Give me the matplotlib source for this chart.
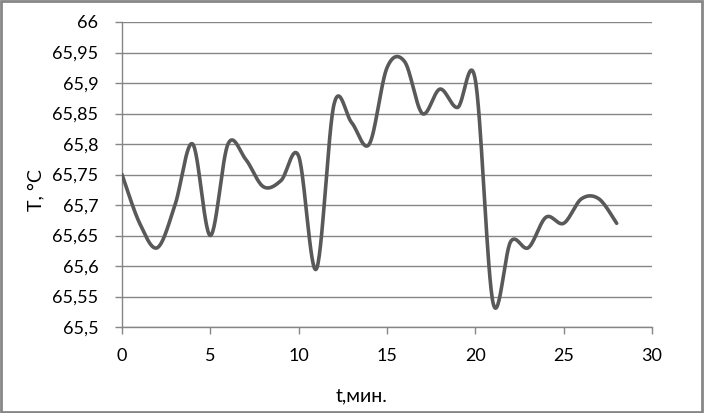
import numpy as np
import matplotlib
matplotlib.use("Agg")
import matplotlib.pyplot as plt
from matplotlib.patches import Rectangle
from matplotlib.ticker import FuncFormatter

# данные
t_min = [0, 1, 2, 3, 4, 5, 6, 7, 8, 9, 10, 11, 12, 13, 14,
         15, 16, 17, 18, 19, 20, 21, 22, 23, 24, 25, 26, 27, 28]
temp_c = [65.75, 65.67, 65.63, 65.70, 65.80, 65.65, 65.80, 65.775, 65.73, 65.74,
          65.78, 65.595, 65.865, 65.835, 65.80, 65.925, 65.935, 65.85, 65.89, 65.86,
          65.905, 65.54, 65.64, 65.63, 65.68, 65.67, 65.71, 65.71, 65.67]

x_ticks = [0, 5, 10, 15, 20, 25, 30]
y_ticks = [65.5, 65.55, 65.6, 65.65, 65.7, 65.75, 65.8, 65.85, 65.9, 65.95, 66.0]

plt.rcParams['font.family'] = ['Lato', 'Open Sans', 'DejaVu Sans']


def smooth_excel(x, y, n=30):
    # сглаживание как в Excel (кубические Безье, Catmull-Rom)
    x = np.asarray(x, float)
    y = np.asarray(y, float)
    px = np.concatenate([[x[0]], x, [x[-1]]])
    py = np.concatenate([[y[0]], y, [y[-1]]])
    s = np.linspace(0, 1, n)
    xs, ys = [], []
    for i in range(1, len(px) - 2):
        p0 = np.array([px[i], py[i]])
        p3 = np.array([px[i + 1], py[i + 1]])
        p1 = p0 + (p3 - np.array([px[i - 1], py[i - 1]])) / 6
        p2 = p3 - (np.array([px[i + 2], py[i + 2]]) - p0) / 6
        b = ((1 - s) ** 3)[:, None] * p0 + (3 * (1 - s) ** 2 * s)[:, None] * p1 \
            + (3 * (1 - s) * s ** 2)[:, None] * p2 + (s ** 3)[:, None] * p3
        xs.append(b[:, 0])
        ys.append(b[:, 1])
    return np.concatenate(xs), np.concatenate(ys)


fig = plt.figure(figsize=(7.04, 4.13), dpi=100)
ax = fig.add_axes([122 / 704, 1 - 327 / 413, 530 / 704, 305 / 413])

grid_col = '#868686'
xs, ys = smooth_excel(t_min, temp_c)
ax.plot(xs, ys, color='#595959', lw=2.6, solid_capstyle='round', zorder=3)

ax.set_xlim(0, 30)
ax.set_ylim(65.5, 66)
ax.set_xticks(x_ticks)
ax.set_yticks(y_ticks)
ax.yaxis.set_major_formatter(FuncFormatter(lambda v, p: f"{v:g}".replace('.', ',')))
ax.grid(axis='y', color=grid_col, lw=1)
ax.set_axisbelow(True)

for side in ['top', 'right']:
    ax.spines[side].set_visible(False)
for side in ['left', 'bottom']:
    ax.spines[side].set_color(grid_col)
    ax.spines[side].set_linewidth(1)

ax.tick_params(axis='both', direction='out', length=5, width=1, color=grid_col,
               labelsize=13, labelcolor='#000000')
ax.tick_params(axis='y', pad=12)
ax.tick_params(axis='x', pad=10)

fig.text(362 / 704, 1 - 396 / 413, 't,мин.', fontsize=14, ha='center', va='center')
fig.text(36 / 704, 1 - 190 / 413, 'T, °C', fontsize=14, ha='center', va='center',
         rotation=90)

fig.patches.append(Rectangle((0.002, 0.003), 0.995, 0.994, transform=fig.transFigure,
                             fill=False, edgecolor=grid_col, lw=2))

fig.savefig('out.png', dpi=100)
